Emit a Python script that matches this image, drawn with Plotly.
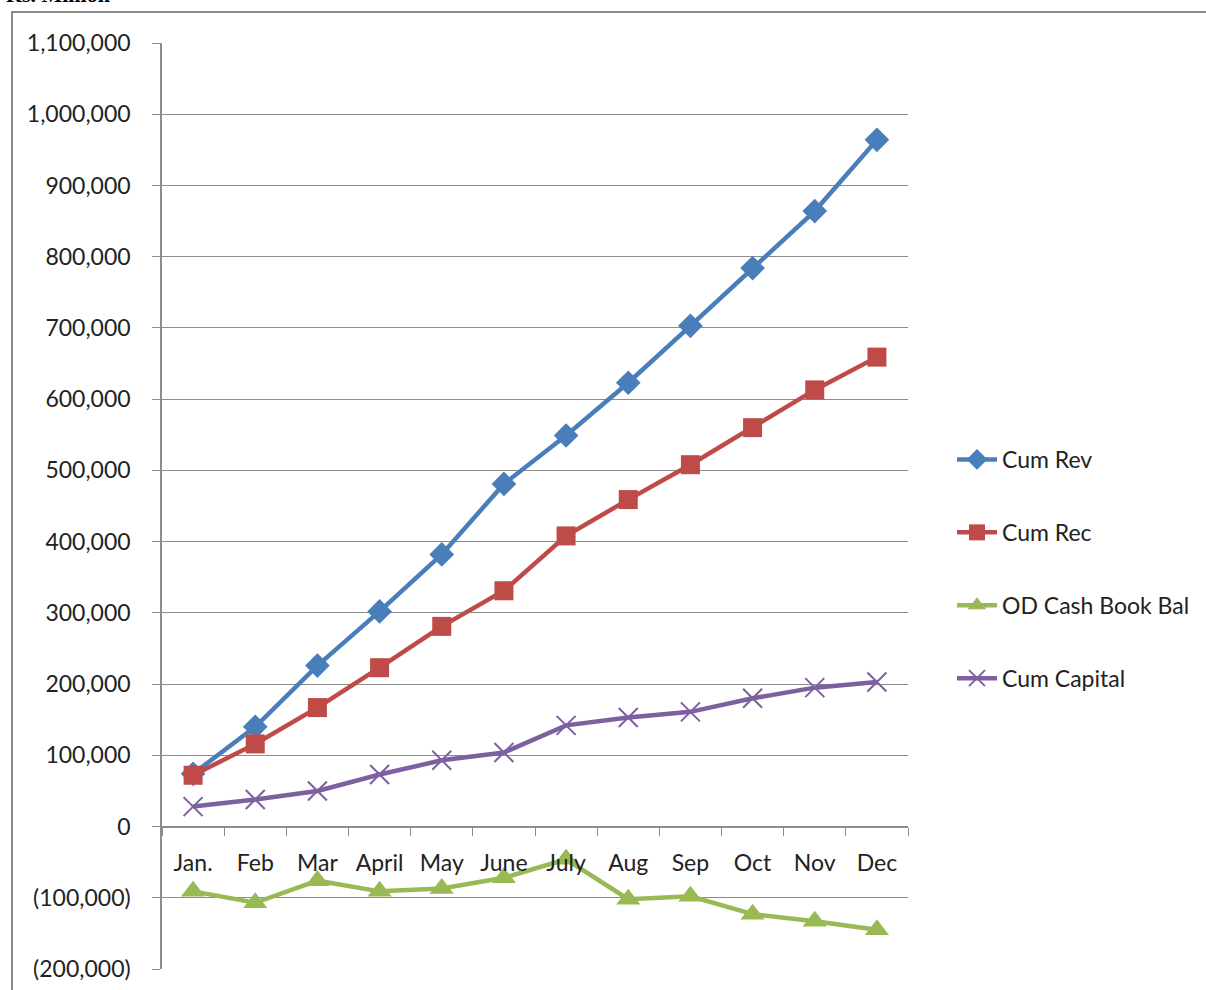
import plotly.graph_objects as go

months = ["Jan.", "Feb", "Mar", "April", "May", "June", "July", "Aug", "Sep", "Oct", "Nov", "Dec"]
cum_rev = [74000, 140000, 226000, 302000, 382000, 481000, 549000, 623000, 703000, 784000, 864000, 964000]
cum_rec = [72000, 116000, 167000, 223000, 281000, 331000, 408000, 459000, 508000, 560000, 613000, 659000]
od_cash = [-91000, -107000, -76000, -91000, -87000, -72000, -46000, -102000, -98000, -123000, -133000, -145000]
cum_cap = [28000, 38000, 50000, 73000, 93000, 104000, 142000, 153000, 161000, 180000, 195000, 203000]

y_ticks = [-200000, -100000, 0, 100000, 200000, 300000, 400000, 500000, 600000,
           700000, 800000, 900000, 1000000, 1100000]
y_labels = ["(200,000)", "(100,000)", "0", "100,000", "200,000", "300,000", "400,000",
            "500,000", "600,000", "700,000", "800,000", "900,000", "1,000,000", "1,100,000"]

FONT = "Lato"
GRID = "#8c8c8c"
FS = 23

fig = go.Figure()
series = [
    ("Cum Rev", cum_rev, "#4A7EBB", dict(symbol="diamond", size=19)),
    ("Cum Rec", cum_rec, "#BE4B48", dict(symbol="square", size=19)),
    ("OD Cash Book Bal", od_cash, "#98B954", dict(symbol="triangle-up", size=21)),
    ("Cum Capital", cum_cap, "#7D60A0", dict(symbol="x-thin", size=19,
                                              line=dict(width=2, color="#7D60A0"))),
]
for i, (name, vals, col, mk) in enumerate(series):
    mk = dict(mk)
    mk["color"] = col
    fig.add_trace(go.Scatter(
        x=months, y=vals, name=name, mode="lines+markers",
        line=dict(color=col, width=4.5), marker=mk, cliponaxis=False,
        legendgroup=f"g{i}",
    ))

L, R, T, B = 162, 908, 43, 969
W, H = 1206, 990
zero_frac = (B - 827) / (B - T)

fig.update_layout(
    width=W, height=H,
    margin=dict(l=L, r=W - R, t=T, b=H - B, pad=0, autoexpand=False),
    paper_bgcolor="white", plot_bgcolor="white",
    font=dict(family=FONT, size=FS, color="#222222"),
    showlegend=True,
    legend=dict(x=(952 - L) / (R - L), xanchor="left",
                y=(B - 569) / (B - T), yanchor="middle",
                tracegroupgap=40, font=dict(size=FS, family=FONT),
                itemwidth=40, bgcolor="rgba(0,0,0,0)"),
    xaxis=dict(
        type="category", range=[-0.5, 11.5],
        anchor="free", position=zero_frac, automargin=False,
        showline=True, linecolor=GRID, linewidth=1.5,
        showgrid=False, ticks="outside", ticklen=8, tickcolor=GRID,
        tickson="boundaries", ticklabelstandoff=16,
        tickfont=dict(size=FS, family=FONT, color="#222222"),
    ),
    yaxis=dict(
        range=[-200000, 1100000], tickvals=y_ticks, ticktext=y_labels,
        automargin=False,
        showline=True, linecolor=GRID, linewidth=1.5,
        showgrid=True, gridcolor=GRID, gridwidth=1.2,
        zeroline=False, ticks="outside", ticklen=8, tickcolor=GRID,
        ticklabelstandoff=17,
        tickfont=dict(size=FS, family=FONT, color="#222222"),
    ),
)

# outer chart frame
fig.add_shape(type="rect", xref="paper", yref="paper",
              x0=(12 - L) / (R - L), x1=(1215 - L) / (R - L),
              y0=(B - 1000) / (B - T), y1=(B - 12) / (B - T),
              line=dict(color="#8a8a8a", width=2), fillcolor="rgba(0,0,0,0)", layer="below")

fig.add_annotation(text="<b>Rs. Million</b>", xref="paper", yref="paper",
                   x=(4 - L) / (R - L), xanchor="left",
                   y=(B - 9) / (B - T), yanchor="bottom", showarrow=False,
                   font=dict(family="Liberation Serif", size=22, color="#000000"))

fig.write_html("out.html")
